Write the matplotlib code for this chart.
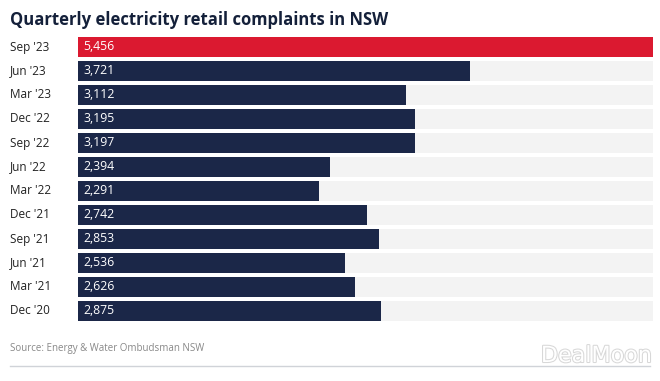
import matplotlib
matplotlib.use("Agg")
import matplotlib.pyplot as plt
import matplotlib.patheffects as pe

categories = ["Sep '23", "Jun '23", "Mar '23", "Dec '22", "Sep '22", "Jun '22",
              "Mar '22", "Dec '21", "Sep '21", "Jun '21", "Mar '21", "Dec '20"]
values = [5456, 3721, 3112, 3195, 3197, 2394, 2291, 2742, 2853, 2536, 2626, 2875]
highlight = [True] + [False] * 11

W, H = 660, 381
fig = plt.figure(figsize=(W / 100, H / 100), dpi=100)
fig.patch.set_facecolor("white")

font = "Open Sans"
ax = fig.add_axes([78 / W, 1 - 323 / H, (653 - 78) / W, (323 - 35) / H])
vmax = max(values)
n = len(values)
ypos = list(range(n))
ax.barh(ypos, [vmax] * n, height=20 / 24, color="#f3f3f3", left=0)
colors = ["#db1930" if h else "#1b2748" for h in highlight]
ax.barh(ypos, values, height=20 / 24, color=colors)
ax.set_xlim(0, vmax)
ax.set_ylim(n - 0.5, -0.5)
ax.axis("off")

for y, v, c in zip(ypos, values, categories):
    ax.text(vmax * 5 / 575, y, f"{v:,}", color="white", va="center", ha="left",
            fontsize=8.8, family=font)
    ax.annotate(c, xy=(0, y), xycoords=("axes fraction", "data"),
                xytext=(10 - 78, 0), textcoords="offset pixels",
                va="center", ha="left", fontsize=8.5, family=font, color="#222222")

fig.text(10 / W, 1 - 20 / H, "Quarterly electricity retail complaints in NSW",
         fontsize=12, fontweight="bold", family=font, color="#14203a",
         va="center", ha="left")
fig.text(10 / W, 1 - 348 / H, "Source: Energy & Water Ombudsman NSW",
         fontsize=7, family=font, color="#888888", va="center", ha="left")
fig.add_artist(plt.Line2D([10 / W, 650 / W], [1 - 366 / H, 1 - 366 / H],
                          color="#d0d3d8", lw=1))
fig.text(652 / W, 1 - 356 / H, "DealMoon", fontsize=16, family="DejaVu Sans",
         color="white", va="center", ha="right",
         path_effects=[pe.withStroke(linewidth=1.5, foreground="#d8d8d8")])

fig.savefig("out.png", dpi=100, facecolor="white")
